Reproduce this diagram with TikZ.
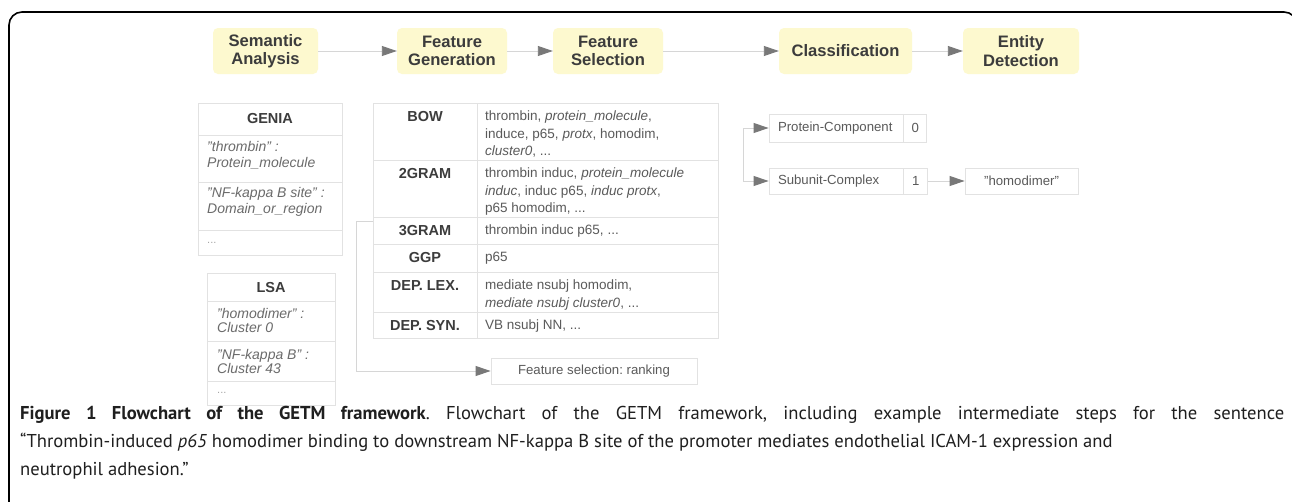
\documentclass[tikz,border=0pt]{standalone}
\usepackage{fontspec}
\setmainfont{Liberation Sans}
\newfontfamily\capfont{PT Sans}
\usetikzlibrary{arrows.meta}
\definecolor{stagefill}{HTML}{FDF9CF}
\definecolor{gridgray}{HTML}{E2E2E2}
\definecolor{linegray}{HTML}{D6D6D6}
\definecolor{tipgray}{HTML}{787878}
\definecolor{headgray}{HTML}{3C3C3C}
\definecolor{txtgray}{HTML}{5A5A5A}
\frenchspacing

\begin{document}
\begin{tikzpicture}
  [x=1pt,y=-1pt,
   stage/.style={fill=stagefill,rounded corners=5pt,minimum height=46pt,inner sep=0pt,
     align=center,text=headgray,font=\fontsize{16.6}{18.4}\selectfont\bfseries},
   flow/.style={draw=linegray,line width=0.9pt,-{Triangle[length=15pt,width=10pt,color=tipgray]}},
   tabline/.style={draw=gridgray,line width=0.9pt},
   head/.style={inner sep=0pt,text=headgray,font=\fontsize{14.5}{17}\selectfont\bfseries},
   feat/.style={inner sep=0pt,align=left,text=txtgray,font=\fontsize{13.5}{17.5}\selectfont},
   sem/.style={inner sep=0pt,align=left,text=txtgray!90,font=\fontsize{14}{16}\selectfont\itshape},
   dots/.style={inner sep=0pt,text=black!35,font=\fontsize{11}{12}\selectfont},
   cell/.style={tabline,inner sep=0pt,text=txtgray,font=\fontsize{13.2}{15}\selectfont}]
\useasboundingbox (0,0) rectangle (1292,501);
\fill[white] (0,0) rectangle (1292,501);
\clip (0,0) rectangle (1292,501);
\draw[line width=1.6pt,rounded corners=13pt] (9,12) rectangle (1297,530);

% pipeline
\node[stage,minimum width=105pt] (sa) at (265.5,51) {Semantic\\Analysis};
\node[stage,minimum width=110pt] (fg) at (452,51) {Feature\\Generation};
\node[stage,minimum width=110pt] (fs) at (608,51) {Feature\\Selection};
\node[stage,minimum width=133pt] (cl) at (845.5,51) {Classification};
\node[stage,minimum width=116pt] (ed) at (1021,51) {Entity\\Detection};
\foreach \from/\to in {sa/fg,fg/fs,fs/cl,cl/ed}
  \draw[flow] (\from) -- (\to);

% GENIA
\draw[tabline] (198,103) rectangle (342,255);
\foreach \y in {135,182,230}
  \draw[tabline] (198,\y) -- (342,\y);
\node[head] (genia) at (270,119) {GENIA};
\node[sem,anchor=north west] (g1) at (207,141) {"thrombin" :\\Protein\_molecule};
\node[sem,anchor=north west] (g2) at (207,187) {"NF-kappa B site" :\\Domain\_or\_region};
\node[dots,anchor=west] (g3) at (207,242.5) {...};

% LSA
\draw[tabline] (207,273) rectangle (335,405);
\foreach \y in {301,341,381}
  \draw[tabline] (207,\y) -- (335,\y);
\node[head] (lsa) at (271,288) {LSA};
\node[sem,anchor=north west,font=\fontsize{14}{14.5}\selectfont\itshape] (l1) at (217,308) {"homodimer" :\\Cluster 0};
\node[sem,anchor=north west,font=\fontsize{14}{14.5}\selectfont\itshape] (l2) at (217,349) {"NF-kappa B" :\\Cluster 43};
\node[dots,anchor=west] (l3) at (217,393) {...};

% features
\draw[tabline] (373,103) rectangle (718,338);
\draw[tabline] (477,103) -- (477,338);
\foreach \y in {160,217,244,272,312}
  \draw[tabline] (373,\y) -- (718,\y);
\foreach \rowy/\hname/\txt [count=\i] in {
    103/BOW/{thrombin, \textit{protein\_molecule},\\induce, p65, \textit{protx}, homodim,\\\textit{cluster0}, ...},
    160/2GRAM/{thrombin induc, \textit{protein\_molecule}\\\textit{induc}, induc p65, \textit{induc protx},\\p65 homodim, ...},
    217/3GRAM/{thrombin induc p65, ...},
    244/GGP/{p65},
    272/DEP. LEX./{mediate nsubj homodim,\\\textit{mediate nsubj cluster0}, ...},
    312/DEP. SYN./{VB nsubj NN, ...}}{
  \node[head,anchor=north] (h\i) at (425,\rowy+8) {\hname};
  \node[feat,anchor=north west] (f\i) at (485,\rowy+8) {\txt};
}
\coordinate (tabjoin) at (373,221);
\node[cell,minimum width=206pt,minimum height=26pt] (fsr) at (594,371) {Feature selection: ranking};
\draw[flow] (tabjoin) -- (356,221) |- (fsr);

% classes
\node[cell,text width=116pt,inner xsep=9pt,align=left,minimum height=28pt] (pc) at (836,128) {Protein-Component};
\node[cell,minimum width=23pt,minimum height=28pt,anchor=west] (pcn) at (pc.east) {0};
\node[cell,text width=116pt,inner xsep=9pt,align=left,minimum height=26pt] (sc) at (836,181) {Subunit-Complex};
\node[cell,minimum width=24pt,minimum height=26pt,anchor=west] (scn) at (sc.east) {1};
\node[cell,minimum width=113pt,minimum height=26pt] (homo) at (1021.5,181) {"homodimer"};
\coordinate (split) at (743,154.5);
\draw[flow] (split) |- (pc);
\draw[flow] (split) |- (sc);
\draw[flow] (scn) -- (homo);

% caption
\node[anchor=north west,inner sep=0pt,text width=1264pt,align=justify,text=black!88,
  font=\capfont\fontsize{18.6}{28}\selectfont\frenchspacing] (cap) at (20,406)
  {\textbf{Figure 1 Flowchart of the GETM framework}. Flowchart of the GETM framework, including example intermediate steps for the sentence\linebreak
   “Thrombin-induced \textit{p65} homodimer binding to downstream NF-kappa B site of the promoter mediates endothelial ICAM-1 expression and\\
   neutrophil adhesion.”};
\end{tikzpicture}
\end{document}
